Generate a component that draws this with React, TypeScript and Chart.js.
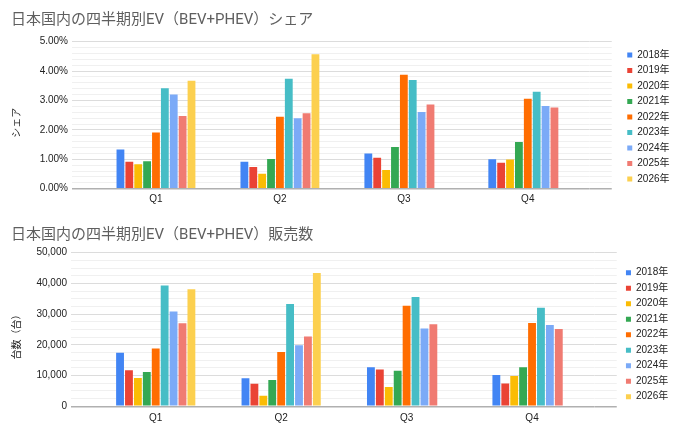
import React, { useEffect, useRef } from 'react';
import { Chart, registerables } from 'chart.js';

Chart.register(...registerables);

// ---- data ----
const quarters = ['Q1', 'Q2', 'Q3', 'Q4'];
const years = ['2018年', '2019年', '2020年', '2021年', '2022年', '2023年', '2024年', '2025年', '2026年'];
const colors = ['#4285F4', '#EA4335', '#FBBC04', '#34A853', '#FF6D01', '#46BDC6', '#7BAAF7', '#F07B72', '#FCD04F'];

// EV share (%)
const share2018 = [1.33, 0.92, 1.2, 1.0];
const share2019 = [0.92, 0.74, 1.05, 0.88];
const share2020 = [0.83, 0.51, 0.64, 0.99];
const share2021 = [0.93, 1.01, 1.42, 1.59];
const share2022 = [1.91, 2.45, 3.88, 3.06];
const share2023 = [3.42, 3.74, 3.7, 3.3];
const share2024 = [3.2, 2.4, 2.61, 2.81];
const share2025 = [2.47, 2.57, 2.86, 2.76];
const share2026 = [3.67, 4.57, null, null];

// EV sales (units)
const sales2018 = [17400, 9100, 12700, 10200];
const sales2019 = [11700, 7300, 12000, 7400];
const sales2020 = [9200, 3400, 6300, 9900];
const sales2021 = [11200, 8600, 11600, 12700];
const sales2022 = [18800, 17700, 32700, 27100];
const sales2023 = [39300, 33300, 35600, 32100];
const sales2024 = [30900, 19900, 25300, 26500];
const sales2025 = [27000, 22700, 26700, 25200];
const sales2026 = [38100, 43400, null, null];

const shareSeries = [share2018, share2019, share2020, share2021, share2022, share2023, share2024, share2025, share2026];
const salesSeries = [sales2018, sales2019, sales2020, sales2021, sales2022, sales2023, sales2024, sales2025, sales2026];

const shareTitle = '日本国内の四半期別EV（BEV+PHEV）シェア';
const salesTitle = '日本国内の四半期別EV（BEV+PHEV）販売数';
const shareAxisTitle = 'シェア\u3000\u2002';
const salesAxisTitle = '台数（台）\u3000\u2002';

const LATIN = "'Liberation Sans', Arial, 'Noto Sans CJK JP', sans-serif";
const TITLE_FONT = "Roboto, 'Noto Sans CJK JP', sans-serif";
const CJK = "'Noto Sans CJK JP', 'Liberation Sans', sans-serif";

type Geo = {
  titleBottom: number;
  xPad: number;
  bottomPad: number;
  yWidth: number;
  rightWidth: number;
  rightPad: number;
  catPct: number;
  legendShift: number;
};

function makeConfig(
  series: (number | null)[][],
  title: string,
  axisTitle: string,
  max: number,
  minorStep: number,
  majorStep: number,
  fmt: (v: number) => string,
  geo: Geo
): any {
  const isMajor = (v: number) => Math.abs(v / majorStep - Math.round(v / majorStep)) < 1e-6;
  const gridColor = (ctx: any) => {
    const v = ctx.tick ? ctx.tick.value : 1;
    if (Math.abs(v) < 1e-9) return '#b0b0b0';
    return isMajor(v) ? '#dcdcdc' : '#f0f0f0';
  };
  const gridWidth = (ctx: any) => {
    const v = ctx.tick ? ctx.tick.value : 1;
    return Math.abs(v) < 1e-9 ? 1.5 : 1;
  };
  return {
    type: 'bar',
    data: {
      labels: quarters,
      datasets: years.map((y, i) => ({
        label: y,
        data: series[i],
        backgroundColor: colors[i],
        borderWidth: 0,
        categoryPercentage: geo.catPct,
        barPercentage: 0.88,
      })),
    },
    options: {
      responsive: false,
      animation: false,
      layout: { padding: { left: 11, right: geo.rightPad, top: 0, bottom: geo.bottomPad } },
      plugins: {
        title: {
          display: true,
          text: title,
          align: 'start',
          color: '#5f5f5f',
          font: { size: 15, family: TITLE_FONT, weight: 'normal', lineHeight: 1.2 },
          padding: { top: 11, bottom: geo.titleBottom },
        },
        legend: {
          position: 'right',
          align: 'center',
          fullSize: true,
          title: {
            display: true,
            text: '',
            font: { size: 1, lineHeight: 1 },
            padding: { top: geo.legendShift, bottom: 0 },
          },
          labels: {
            boxWidth: 5,
            boxHeight: 5,
            padding: 5.5,
            color: '#222222',
            font: { size: 10, family: LATIN },
          },
        },
        tooltip: { enabled: false },
      },
      scales: {
        x: {
          type: 'category',
          grid: { display: false, drawTicks: false },
          border: { display: false },
          ticks: { color: '#222222', font: { size: 10, family: LATIN }, padding: geo.xPad },
        },
        y: {
          type: 'linear',
          position: 'left',
          min: 0,
          max,
          afterFit: (s: any) => {
            s.width = geo.yWidth;
          },
          border: { display: false },
          grid: { color: gridColor, lineWidth: gridWidth, tickLength: 22, drawTicks: true },
          ticks: {
            stepSize: minorStep,
            autoSkip: false,
            padding: 4,
            color: '#222222',
            font: { size: 10, family: LATIN },
            callback: (v: any) => (isMajor(Number(v)) ? fmt(Number(v)) : ''),
          },
          title: {
            display: true,
            text: axisTitle,
            color: '#222222',
            font: { size: 10, family: CJK, lineHeight: 1 },
            padding: { top: 0, bottom: 0 },
          },
        },
        yRight: {
          type: 'linear',
          position: 'right',
          min: 0,
          max,
          afterFit: (s: any) => {
            s.width = geo.rightWidth;
          },
          border: { display: false },
          grid: { color: gridColor, lineWidth: gridWidth, tickLength: 22, drawTicks: true, drawOnChartArea: false },
          ticks: { stepSize: minorStep, autoSkip: false, display: false },
        },
      },
    },
  };
}

export default function App() {
  const topRef = useRef<HTMLCanvasElement | null>(null);
  const botRef = useRef<HTMLCanvasElement | null>(null);

  useEffect(() => {
    const c1 = new Chart(
      topRef.current as HTMLCanvasElement,
      makeConfig(shareSeries, shareTitle, shareAxisTitle, 5, 0.2, 1, (v) => v.toFixed(2) + '%', {
        titleBottom: 12.7,
        xPad: 5,
        bottomPad: 4.3,
        yWidth: 83,
        rightWidth: 32,
        rightPad: 10.5,
        catPct: 0.645,
        legendShift: 22.3,
      })
    );
    const c2 = new Chart(
      botRef.current as HTMLCanvasElement,
      makeConfig(salesSeries, salesTitle, salesAxisTitle, 50000, 2500, 10000, (v) => v.toLocaleString('en-US'), {
        titleBottom: 8.7,
        xPad: 6,
        bottomPad: 3.7,
        yWidth: 82,
        rightWidth: 25.7,
        rightPad: 11.8,
        catPct: 0.64,
        legendShift: 23.1,
      })
    );
    return () => {
      c1.destroy();
      c2.destroy();
    };
  }, []);

  return (
    <div style={{ position: 'absolute', left: 0, top: 0, width: 690, height: 434, background: '#ffffff' }}>
      <canvas ref={topRef} width={690} height={215} style={{ display: 'block', width: 690, height: 215 }} />
      <canvas ref={botRef} width={690} height={219} style={{ display: 'block', width: 690, height: 219 }} />
    </div>
  );
}
